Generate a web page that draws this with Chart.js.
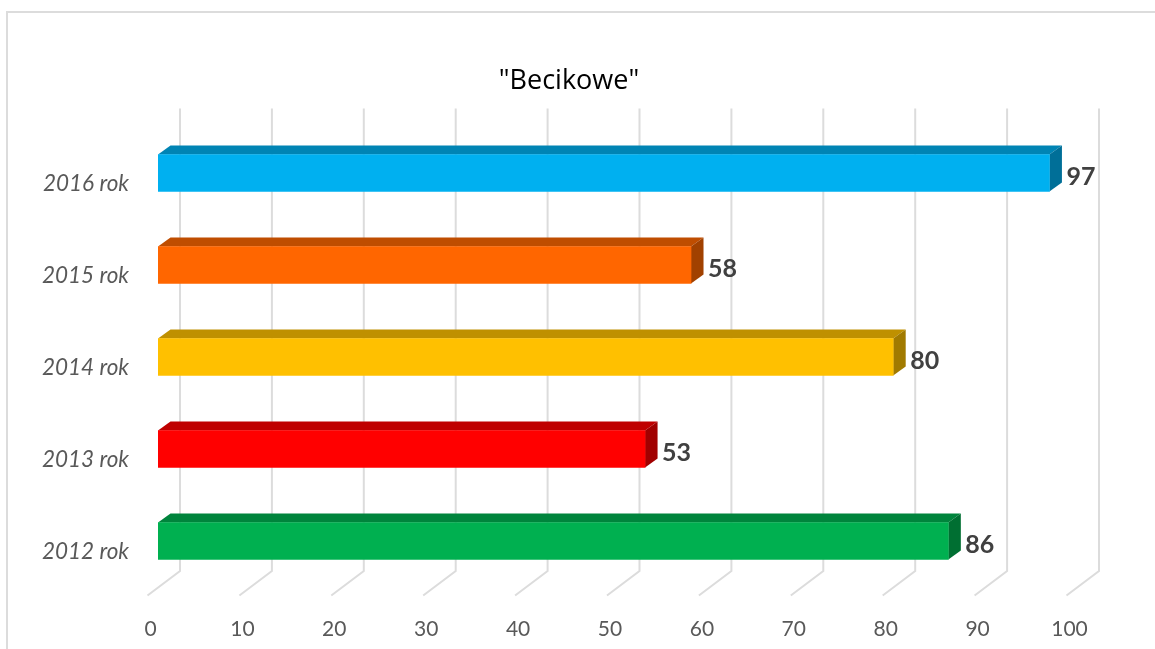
<!DOCTYPE html>
<html><head><meta charset="utf-8">
<script src="https://cdn.jsdelivr.net/npm/chart.js@4"></script>
<style>
html,body{margin:0;padding:0;background:#fff;overflow:hidden}
#frame{position:absolute;left:6px;top:11px;width:1149px;height:638px;border-left:2px solid #dcdcdc;border-top:2px solid #dcdcdc;box-sizing:border-box}
#wrap{position:absolute;left:0;top:0;width:1155px;height:649px}
</style></head><body>
<div id="frame"></div>
<div id="wrap"><canvas id="c" width="1155" height="649"></canvas></div>
<script>
const categories = ["2016 rok","2015 rok","2014 rok","2013 rok","2012 rok"];
const values = [97,58,80,53,86];
const frontColors = ["#00B0F0","#FF6600","#FFC000","#FF0000","#00B050"];
const topColors = ["#0084B4","#BF4D00","#BF9000","#BF0000","#00843C"];
const sideColors = ["#006F98","#A14100","#A17A00","#A10000","#006F32"];
const axisTicks = [0,10,20,30,40,50,60,70,80,90,100];
const depth = {dx:12.5, dy:9};
const wall = {dx:22, top:108.5, bottom:571};
const floor = {dx:-10.5, bottom:595.5};

const threeD = {
  id:'threeD',
  afterLayout(chart){ chart.scales.y.left = 0; },
  beforeDatasetsDraw(chart){
    const ctx = chart.ctx, sx = chart.scales.x;
    ctx.save();
    ctx.strokeStyle = '#dcdcdc'; ctx.lineWidth = 2; ctx.lineJoin='miter';
    axisTicks.forEach(t=>{
      const p = sx.getPixelForValue(t);
      ctx.beginPath();
      ctx.moveTo(p+wall.dx, wall.top);
      ctx.lineTo(p+wall.dx, wall.bottom);
      ctx.lineTo(p+floor.dx, floor.bottom);
      ctx.stroke();
    });
    chart.getDatasetMeta(0).data.forEach((b,i)=>{
      const top = b.y - b.height/2, bot = b.y + b.height/2, l = b.base, r = b.x;
      ctx.fillStyle = topColors[i];
      ctx.beginPath();
      ctx.moveTo(l,top); ctx.lineTo(l+depth.dx,top-depth.dy);
      ctx.lineTo(r+depth.dx,top-depth.dy); ctx.lineTo(r,top); ctx.closePath(); ctx.fill();
      ctx.fillStyle = sideColors[i];
      ctx.beginPath();
      ctx.moveTo(r,top); ctx.lineTo(r+depth.dx,top-depth.dy);
      ctx.lineTo(r+depth.dx,bot-depth.dy); ctx.lineTo(r,bot); ctx.closePath(); ctx.fill();
    });
    ctx.restore();
  },
  afterDatasetsDraw(chart){
    const ctx = chart.ctx;
    ctx.save();
    ctx.font = 'bold 25px Lato'; ctx.fillStyle='#404040';
    ctx.textAlign='left'; ctx.textBaseline='middle';
    chart.getDatasetMeta(0).data.forEach((b,i)=>{
      ctx.fillText(String(values[i]), b.x+17, b.y+4);
    });
    ctx.restore();
  }
};

new Chart(document.getElementById('c'),{
  type:'bar',
  data:{labels:categories,datasets:[{data:values,backgroundColor:frontColors,barThickness:37,borderWidth:0}]},
  plugins:[threeD],
  options:{
    indexAxis:'y',responsive:false,animation:false,
    layout:{padding:{left:61,right:78,top:0,bottom:0}},
    plugins:{
      legend:{display:false},tooltip:{enabled:false},
      title:{display:true,text:'"Becikowe"',color:'#000',
        font:{family:'Open Sans',size:27,weight:'normal',lineHeight:1.2},
        padding:{top:64.8,bottom:29.8}}
    },
    scales:{
      x:{min:0,max:100,
        afterFit(s){s.height=62;},
        afterBuildTicks(s){s.ticks=axisTicks.map(v=>({value:v}));},
        grid:{display:false,drawTicks:false},border:{display:false},
        ticks:{color:'#595959',font:{family:'Lato',size:21},padding:29.5,labelOffset:-7.5,maxRotation:0,autoSkip:false}},
      y:{
        afterFit(s){s.width=97;},
        grid:{display:false,drawTicks:false},border:{display:false},
        ticks:{color:'#595959',font:{family:'Lato',size:22.5,style:'italic'},padding:29,labelOffset:10.5}}
    }
  }
});
</script>
</body></html>
